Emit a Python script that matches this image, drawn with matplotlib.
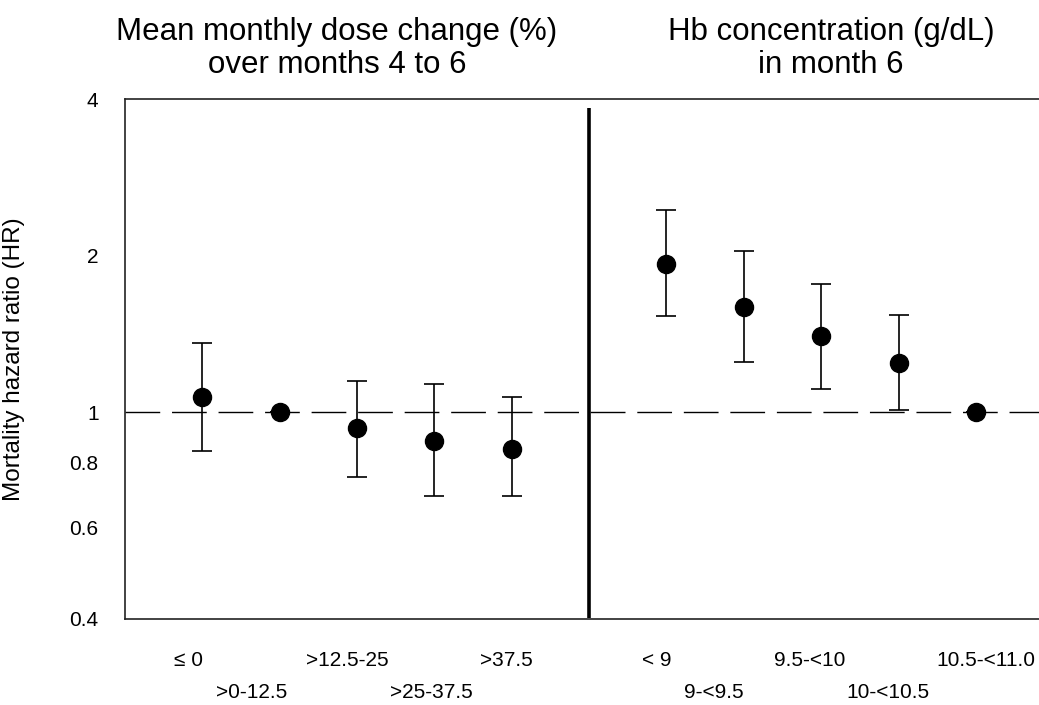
import numpy as np
import matplotlib
matplotlib.use("Agg")
import matplotlib.pyplot as plt
from matplotlib.ticker import NullFormatter, FixedLocator

plt.rcParams['font.family'] = ['Liberation Sans', 'DejaVu Sans']

# ---- data (hazard ratios, 95% CI) ----
dose_labels = ["≤ 0", ">0-12.5", ">12.5-25", ">25-37.5", ">37.5"]
dose_hr = [1.07, 1.00, 0.93, 0.88, 0.85]
dose_lo = [0.84, 1.00, 0.75, 0.69, 0.69]
dose_hi = [1.36, 1.00, 1.15, 1.13, 1.07]

hb_labels = ["< 9", "9-<9.5", "9.5-<10", "10-<10.5", "10.5-<11.0"]
hb_hr = [1.93, 1.59, 1.40, 1.24, 1.00]
hb_lo = [1.53, 1.25, 1.11, 1.01, 1.00]
hb_hi = [2.45, 2.04, 1.76, 1.54, 1.00]

y_ticks = [0.4, 0.6, 0.8, 1, 2, 4]
y_ticklabels = ["0.4", "0.6", "0.8", "1", "2", "4"]

titles = ["Mean monthly dose change (%)\nover months 4 to 6",
          "Hb concentration (g/dL)\nin month 6"]

# ---- layout ----
dose_x = np.arange(1, 6)
hb_x = np.arange(7, 12)
sep_x = 6
# label nudges so staggered labels sit like the original
dose_lab_x = dose_x + np.array([-0.18, -0.36, -0.13, -0.04, -0.07])
hb_lab_x = hb_x + np.array([-0.12, -0.39, -0.15, -0.14, 0.13])
lab_row = [-0.079, -0.141, -0.079, -0.141, -0.079]

fig = plt.figure(figsize=(10.39, 7.05), dpi=100)
ax = fig.add_axes([125 / 1039, 1 - 619 / 705, 1 - 125 / 1039 + 0.01, 520 / 705])

ax.set_yscale('log')
ax.set_ylim(0.4, 4)
ax.set_xlim(0, 11.95)

# reference line at HR = 1
ax.axhline(1, color='black', lw=1.0, dashes=(25, 8.5), zorder=1)

# separator between panels
ax.plot([sep_x, sep_x], [0.401, 3.85], color='black', lw=2.6, solid_capstyle='butt', zorder=2)

for xs, hr, lo, hi in [(dose_x, dose_hr, dose_lo, dose_hi), (hb_x, hb_hr, hb_lo, hb_hi)]:
    hr = np.array(hr)
    err = np.vstack([hr - np.array(lo), np.array(hi) - hr])
    ax.errorbar(xs, hr, yerr=err, fmt='none', ecolor='black', elinewidth=1.2,
                capsize=7, capthick=1.2, zorder=3)
    ax.plot(xs, hr, 'o', color='black', ms=13, zorder=4)

# axes styling
ax.spines['right'].set_visible(False)
for s in ['left', 'bottom', 'top']:
    ax.spines[s].set_linewidth(1.2)
    ax.spines[s].set_color('#222222')

ax.yaxis.set_major_locator(FixedLocator(y_ticks))
ax.set_yticklabels(y_ticklabels)
ax.yaxis.set_minor_locator(FixedLocator([1]))
ax.yaxis.set_minor_formatter(NullFormatter())
ax.tick_params(axis='y', which='major', length=0, pad=19, labelsize=15)
ax.tick_params(axis='y', which='minor', length=7.5, width=1.0, direction='out')
ax.set_xticks([])

ax.set_ylabel("Mortality hazard ratio (HR)", fontsize=17.5)
ax.yaxis.set_label_coords(-(125 - 26) / 914, 0.5)

trans = ax.get_xaxis_transform()
for lx, lab, ry in zip(dose_lab_x, dose_labels, lab_row):
    ax.text(lx, ry, lab, transform=trans, ha='center', va='center', fontsize=15)
for lx, lab, ry in zip(hb_lab_x, hb_labels, lab_row):
    ax.text(lx, ry, lab, transform=trans, ha='center', va='center', fontsize=15)

fig.text(337 / 1039, 1 - 48.5 / 705, titles[0], ha='center', va='center', fontsize=22.5, linespacing=1.17)
fig.text(831 / 1039, 1 - 48.5 / 705, titles[1], ha='center', va='center', fontsize=22.5, linespacing=1.17)

fig.savefig("out.png", dpi=100)
